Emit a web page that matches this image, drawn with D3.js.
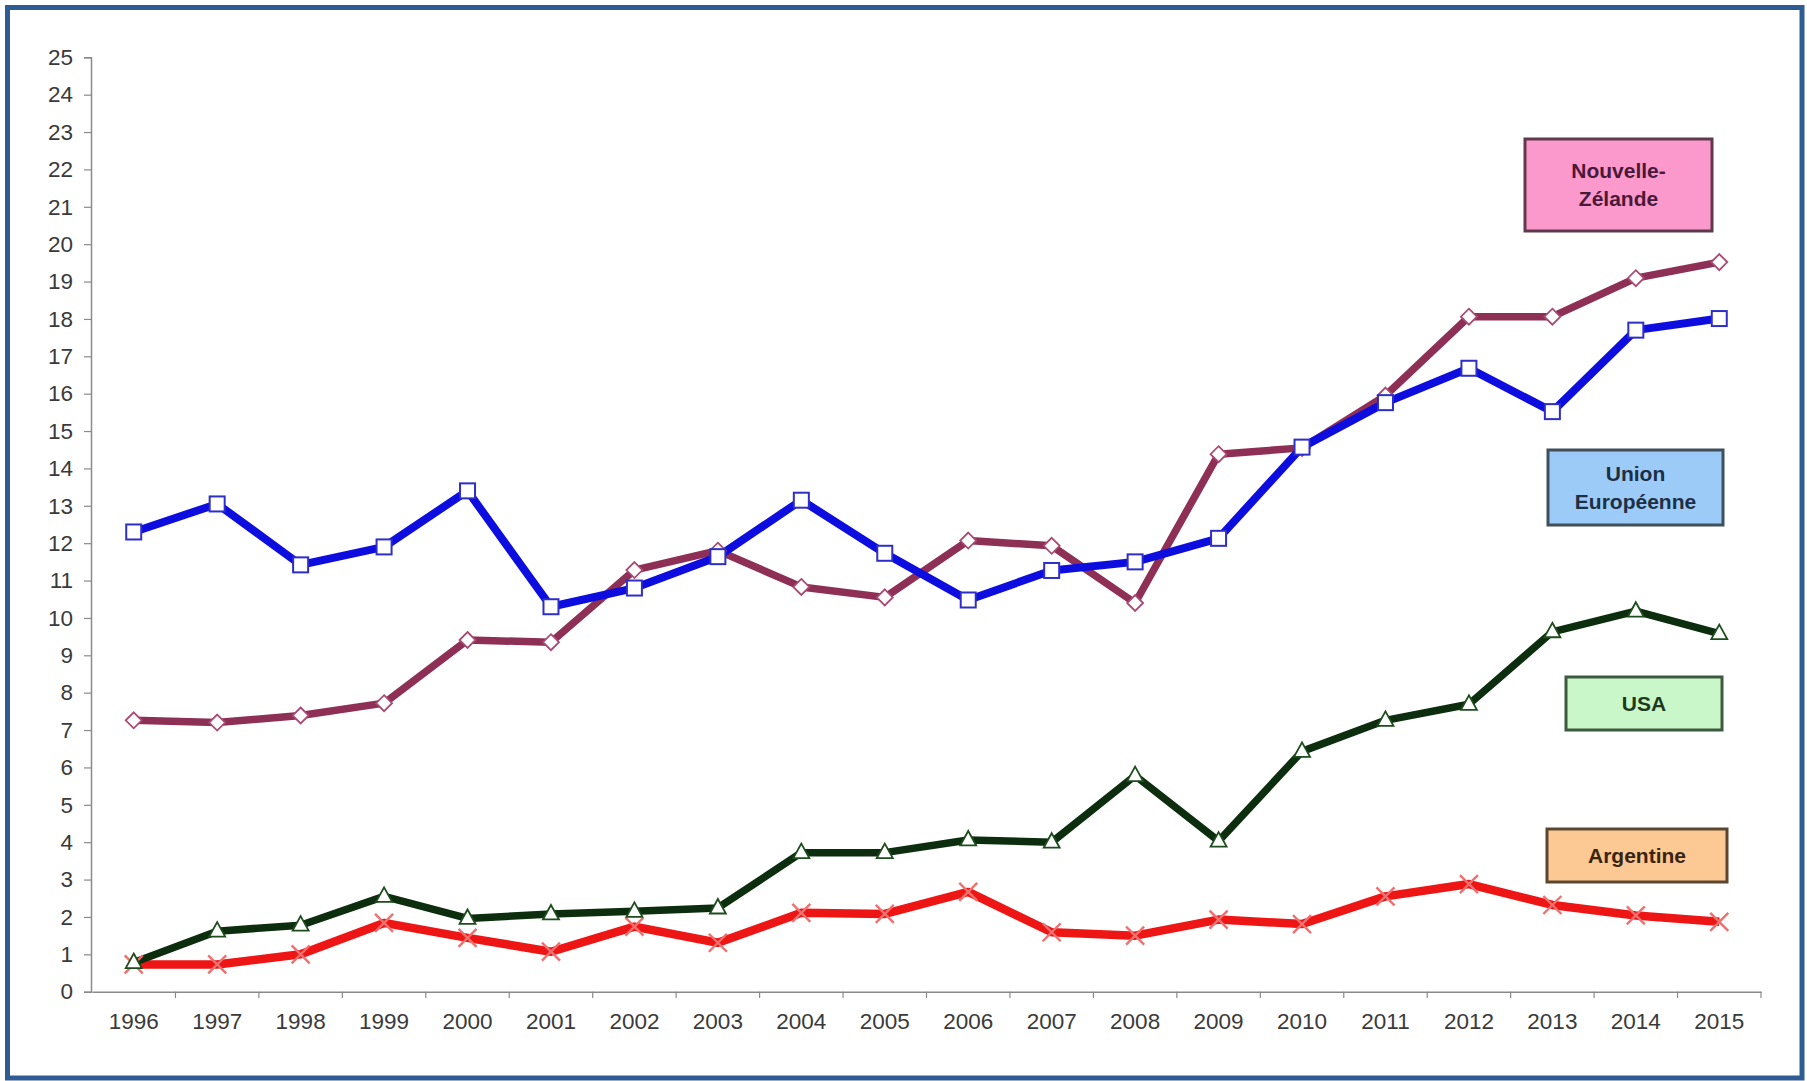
<!DOCTYPE html>
<html>
<head>
<meta charset="utf-8">
<script src="https://cdn.jsdelivr.net/npm/d3@7"></script>
<style>
  html, body { margin: 0; padding: 0; background: #fff; }
  svg { display: block; }
  text { font-family: "Liberation Sans", Arial, sans-serif; }
</style>
</head>
<body>
<svg id="chart" width="1807" height="1081"></svg>
<script>
const years = ["1996","1997","1998","1999","2000","2001","2002","2003","2004","2005","2006","2007","2008","2009","2010","2011","2012","2013","2014","2015"];
const yTicks = [0,1,2,3,4,5,6,7,8,9,10,11,12,13,14,15,16,17,18,19,20,21,22,23,24,25];

const nouvelleZelande = [7.26,7.2,7.39,7.72,9.41,9.35,11.28,11.8,10.83,10.55,12.07,11.93,10.4,14.38,14.55,15.95,18.06,18.06,19.09,19.52];
const unionEuropeenne = [12.3,13.05,11.42,11.9,13.4,10.3,10.8,11.64,13.15,11.73,10.48,11.27,11.5,12.13,14.57,15.76,16.68,15.52,17.7,18.01];
const usa = [0.78,1.62,1.78,2.55,1.96,2.08,2.15,2.24,3.72,3.72,4.06,4.0,5.78,4.03,6.43,7.26,7.69,9.63,10.18,9.58];
const argentine = [0.73,0.73,1.0,1.84,1.44,1.07,1.74,1.31,2.11,2.08,2.67,1.59,1.5,1.93,1.81,2.55,2.88,2.32,2.04,1.87];

const legendNames = [["Nouvelle-","Zélande"],["Union","Européenne"],["USA"],["Argentine"]];

const svg = d3.select("#chart");

// frame
svg.append("rect").attr("x",7.5).attr("y",7.5).attr("width",1794.5).attr("height",1070.5)
  .attr("fill","#fff").attr("stroke","#2f5b93").attr("stroke-width",5);

const x = d3.scaleBand().domain(years).range([92,1761]);
const y = d3.scaleLinear().domain([0,25]).range([991.7,57.3]);

// y axis
const yAxis = svg.append("g").attr("transform","translate(91,0)")
  .call(d3.axisLeft(y).tickValues(yTicks).tickSize(7).tickPadding(11));
yAxis.select(".domain").attr("stroke","#8a8a8a").attr("stroke-width",1.5);
yAxis.selectAll(".tick line").attr("stroke","#8a8a8a").attr("stroke-width",1.2);
yAxis.selectAll(".tick text").attr("font-size",22.5).attr("fill","#3a3a3a");

// x axis
const xAxis = svg.append("g").attr("transform","translate(0,991.7)")
  .call(d3.axisBottom(x).tickSize(0).tickPadding(21));
xAxis.select(".domain").attr("stroke","#8a8a8a").attr("stroke-width",1.5);
xAxis.selectAll(".tick text").attr("font-size",22.5).attr("fill","#3a3a3a");
// ticks between categories
const edges = years.map((d)=>x(d)).concat([x(years[years.length-1]) + x.bandwidth()]).slice(1);
svg.append("g").selectAll("line").data(edges).join("line")
  .attr("x1",d=>d).attr("x2",d=>d).attr("y1",991.7).attr("y2",998)
  .attr("stroke","#8a8a8a").attr("stroke-width",1.2);

const cx = (d,i) => x(years[i]) + x.bandwidth()/2;
const line = d3.line().x((d,i)=>cx(d,i)).y(d=>y(d));

const series = [
  {data: argentine, color: "#ee1515", w: 8.5, marker: "x", mstroke: "#f07070"},
  {data: usa, color: "#0c2e0e", w: 7.5, marker: "tri", mstroke: "#1d4d1d"},
  {data: nouvelleZelande, color: "#8e2f55", w: 7.5, marker: "diamond", mstroke: "#a84a74"},
  {data: unionEuropeenne, color: "#0d0de0", w: 8, marker: "square", mstroke: "#2e2ec8"}
];

series.forEach(s => {
  svg.append("path").datum(s.data).attr("d",line).attr("fill","none")
    .attr("stroke",s.color).attr("stroke-width",s.w).attr("stroke-linejoin","round");
});
series.forEach(s => {
  const g = svg.append("g");
  s.data.forEach((v,i) => {
    const px = cx(v,i), py = y(v);
    if (s.marker === "square") {
      g.append("rect").attr("x",px-7.5).attr("y",py-7.5).attr("width",15).attr("height",15)
        .attr("fill","#fff").attr("stroke",s.mstroke).attr("stroke-width",2);
    } else if (s.marker === "diamond") {
      g.append("path").attr("d",`M${px},${py-8}L${px+8},${py}L${px},${py+8}L${px-8},${py}Z`)
        .attr("fill","#fff").attr("stroke",s.mstroke).attr("stroke-width",1.8);
    } else if (s.marker === "tri") {
      g.append("path").attr("d",`M${px},${py-9}L${px+8},${py+5.5}L${px-8},${py+5.5}Z`)
        .attr("fill","#fff").attr("stroke",s.mstroke).attr("stroke-width",1.8);
    } else {
      g.append("path").attr("d",`M${px-9},${py-9}L${px+9},${py+9}M${px+9},${py-9}L${px-9},${py+9}`)
        .attr("stroke",s.mstroke).attr("stroke-width",2.4).attr("fill","none");
    }
  });
});

// label boxes
const boxes = [
  {x:1525, y:139, w:187, h:92, fill:"#fb98cc", stroke:"#5e3a4c", tc:"#4a1838", lines: legendNames[0]},
  {x:1548, y:450, w:175, h:75, fill:"#9dcbf7", stroke:"#3f4f5c", tc:"#1c2f45", lines: legendNames[1]},
  {x:1566, y:677, w:156, h:53, fill:"#c9f7c9", stroke:"#3e5a3e", tc:"#1d3a1d", lines: legendNames[2]},
  {x:1547, y:829, w:180, h:53, fill:"#fcc994", stroke:"#5b4630", tc:"#3a2410", lines: legendNames[3]}
];
boxes.forEach(b => {
  svg.append("rect").attr("x",b.x).attr("y",b.y).attr("width",b.w).attr("height",b.h)
    .attr("fill",b.fill).attr("stroke",b.stroke).attr("stroke-width",3);
  const n = b.lines.length;
  b.lines.forEach((t,k) => {
    svg.append("text").attr("x",b.x+b.w/2)
      .attr("y", b.y + b.h/2 + (k-(n-1)/2)*28)
      .attr("dy","0.35em").attr("text-anchor","middle")
      .attr("font-size",21).attr("font-weight","bold").attr("fill",b.tc).text(t);
  });
});
</script>
</body>
</html>
